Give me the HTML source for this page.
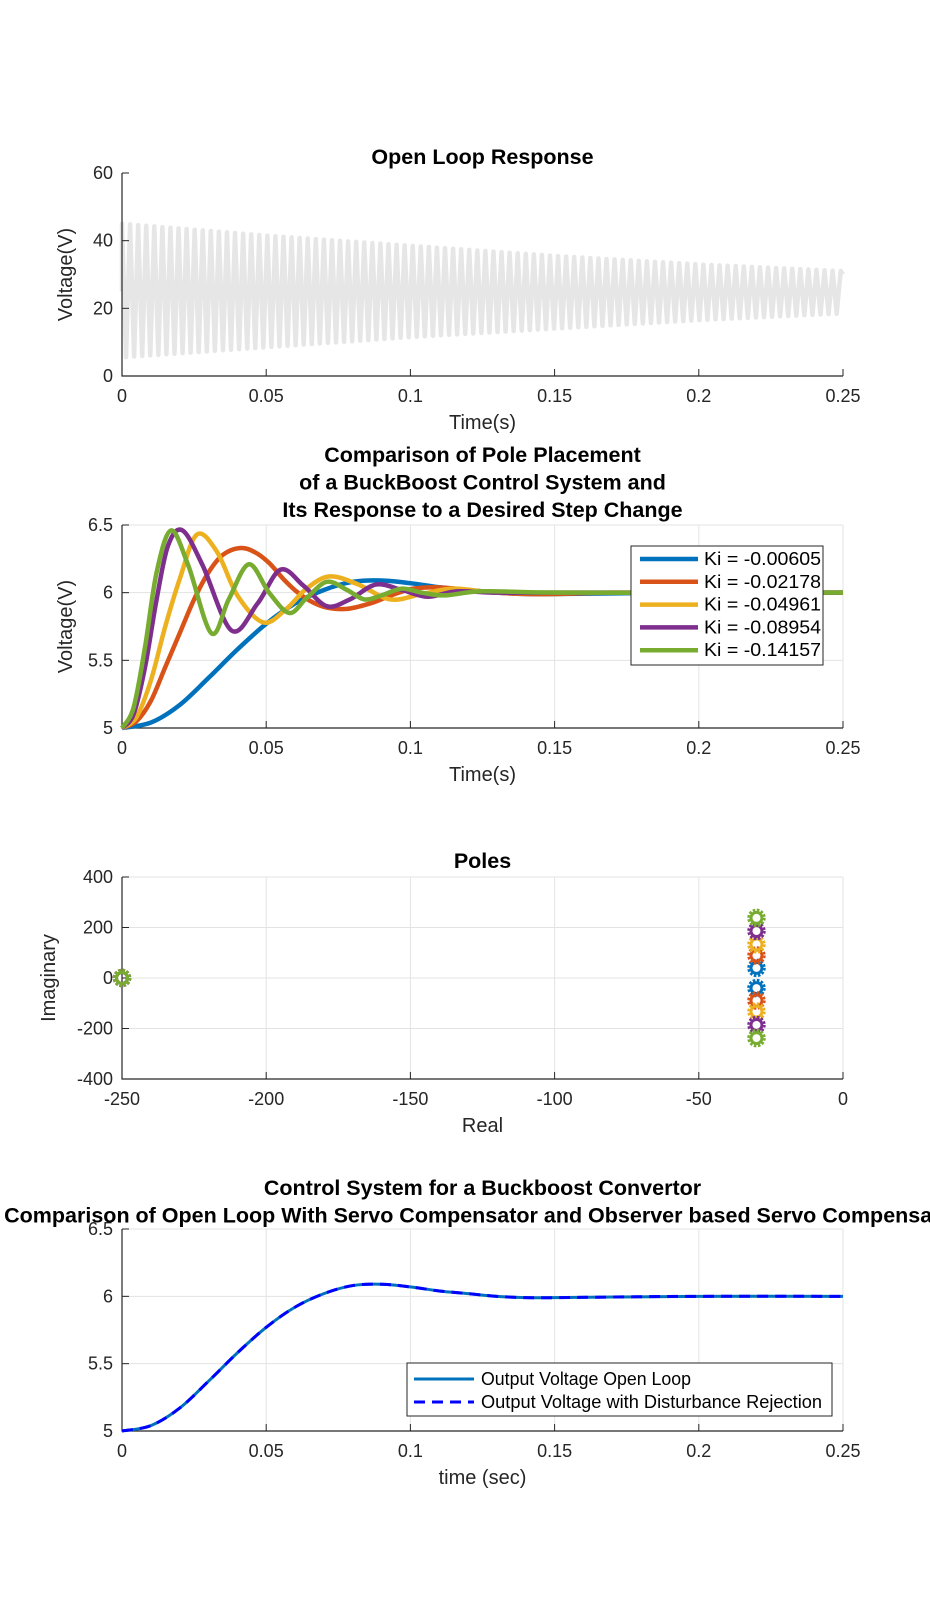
<!DOCTYPE html>
<html><head><meta charset="utf-8">
<style>
html,body{margin:0;padding:0;background:#fff;}
svg{display:block;font-family:"Liberation Sans",Arial,sans-serif;}
.tick{font-size:18px;fill:#262626;}
.ttl{font-size:21.5px;font-weight:bold;fill:#000;}
.lab{font-size:20px;fill:#262626;}
.leg{font-size:18px;fill:#000;}
</style></head>
<body>
<svg id="fig" width="930" height="1608" viewBox="0 0 930 1608" xmlns="http://www.w3.org/2000/svg">
<rect width="930" height="1608" fill="#fff"/>
</svg>
<script>
// ---------- data ----------
const olEnvT = [0, 0.05, 0.1, 0.15, 0.2, 0.25];
const olUpper = [45, 41.5, 38.5, 35.5, 33, 31];
const olLower = [5.5, 8.5, 11.5, 14, 16.5, 18.5];
const olPeriod = 0.0028;

const kiLabels = ["Ki = -0.00605","Ki = -0.02178","Ki = -0.04961","Ki = -0.08954","Ki = -0.14157"];
const blueT = [0,0.01,0.02,0.03,0.04,0.05,0.06,0.07,0.08,0.09,0.1,0.11,0.12,0.13,0.14,0.15,0.17,0.2,0.25];
const blueV = [5,5.04,5.17,5.37,5.58,5.77,5.92,6.02,6.08,6.09,6.07,6.04,6.02,6.0,5.99,5.99,5.995,6,6];
const orangeT = [0,0.005,0.01,0.015,0.02,0.025,0.03,0.035,0.041,0.046,0.051,0.056,0.061,0.066,0.071,0.078,0.086,0.091,0.096,0.101,0.109,0.12,0.13,0.14,0.15,0.17,0.2,0.25];
const orangeV = [5,5.05,5.2,5.45,5.7,5.95,6.15,6.28,6.33,6.3,6.22,6.1,6.0,5.93,5.89,5.88,5.92,5.96,6.0,6.03,6.04,6.02,6.0,5.99,5.99,6,6,6];
const yellowT = [0,0.005,0.01,0.015,0.02,0.026,0.033,0.04,0.049,0.057,0.064,0.072,0.082,0.093,0.104,0.115,0.13,0.15,0.2,0.25];
const yellowV = [5,5.08,5.35,5.75,6.1,6.43,6.3,5.98,5.78,5.88,6.03,6.12,6.06,5.95,5.99,6.03,6.0,6.0,6,6];
const purpleT = [0,0.004,0.008,0.012,0.016,0.021,0.028,0.038,0.047,0.055,0.063,0.071,0.079,0.088,0.097,0.106,0.116,0.13,0.15,0.2,0.25];
const purpleV = [5,5.1,5.45,5.95,6.35,6.46,6.2,5.72,5.92,6.17,6.05,5.9,5.95,6.06,6.02,5.97,6.01,6.0,6,6,6];
const greenT = [0,0.004,0.008,0.012,0.017,0.023,0.031,0.037,0.044,0.051,0.058,0.064,0.071,0.078,0.084,0.09,0.097,0.104,0.112,0.125,0.15,0.2,0.25];
const greenV = [5,5.15,5.6,6.15,6.46,6.2,5.7,5.95,6.21,6.0,5.85,5.96,6.08,6.02,5.95,5.98,6.03,6.0,5.98,6.01,6,6,6];
const seriesT = [blueT, orangeT, yellowT, purpleT, greenT];
const seriesV = [blueV, orangeV, yellowV, purpleV, greenV];

const poleRe = [-250, -30];
const poleIm = [40, 89, 133, 186, 238];

const servoT = blueT;
const servoV = blueV;
const servoLabels = ["Output Voltage Open Loop", "Output Voltage with Disturbance Rejection"];

const xTicks = [0, 0.05, 0.1, 0.15, 0.2, 0.25];
const xTickLabels = ["0","0.05","0.1","0.15","0.2","0.25"];
const y1Ticks = [0,20,40,60];
const yVTicks = [5,5.5,6,6.5];
const yVTickLabels = ["5","5.5","6","6.5"];
const reTicks = [-250,-200,-150,-100,-50,0];
const imTicks = [-400,-200,0,200,400];

// ---------- helpers ----------
const NS = "http://www.w3.org/2000/svg";
const fig = document.getElementById("fig");
function mk(tag, attrs, parent){ const e=document.createElementNS(NS,tag); for(const k in attrs) e.setAttribute(k,attrs[k]); (parent||fig).appendChild(e); return e; }
function txt(x,y,s,cls,anchor,parent){ const t=mk("text",{x:x,y:y,class:cls,"text-anchor":anchor||"middle"},parent); t.textContent=s; return t; }
const COLORS = ["#0072BD","#D95319","#EDB120","#7E2F8E","#77AC30"];
const L=122, R=843;
function scale(d0,d1,r0,r1){ return v => r0 + (v-d0)/(d1-d0)*(r1-r0); }
function smoothPath(pts){
  let d="M"+pts[0][0].toFixed(2)+","+pts[0][1].toFixed(2);
  for(let i=0;i<pts.length-1;i++){
    const p0=pts[Math.max(0,i-1)],p1=pts[i],p2=pts[i+1],p3=pts[Math.min(pts.length-1,i+2)];
    const c1=[p1[0]+(p2[0]-p0[0])/6,p1[1]+(p2[1]-p0[1])/6];
    const c2=[p2[0]-(p3[0]-p1[0])/6,p2[1]-(p3[1]-p1[1])/6];
    d+=" C"+c1[0].toFixed(2)+","+c1[1].toFixed(2)+" "+c2[0].toFixed(2)+","+c2[1].toFixed(2)+" "+p2[0].toFixed(2)+","+p2[1].toFixed(2);
  }
  return d;
}
function axes(g, top, bot, xs, ys, xt, xtl, yt, ytl, grid, xlab, ylab, ylabX){
  if(grid){
    xt.forEach(v=>{ const l=mk("line",{x1:xs(v),x2:xs(v),y1:top,y2:bot,stroke:"#e3e3e3","stroke-width":1},g);
      
       });
    yt.forEach(v=>{ const l=mk("line",{x1:L,x2:R,y1:ys(v),y2:ys(v),stroke:"#e3e3e3","stroke-width":1},g);
      
       });
  }
  const ax=mk("path",{d:`M${L},${top} L${L},${bot} L${R},${bot}`,fill:"none",stroke:"#262626","stroke-width":1.2},g);
  
  
  xt.forEach((v,i)=>{ mk("line",{x1:xs(v),x2:xs(v),y1:bot,y2:bot-7,stroke:"#262626"},g);
    const t=txt(xs(v),bot+26,xtl[i],"tick","middle",g);
    
     });
  yt.forEach((v,i)=>{ mk("line",{x1:L,x2:L+7,y1:ys(v),y2:ys(v),stroke:"#262626"},g);
    const t=txt(L-9,ys(v)+6,ytl[i],"tick","end",g);
    
     });
  const xl=txt((L+R)/2,bot+53,xlab,"lab","middle",g);
  
  
  const cy=(top+bot)/2;
  const yl=txt(ylabX,cy,ylab,"lab","middle",g);
  yl.setAttribute("transform",`rotate(-90 ${ylabX} ${cy})`);
  
  
}

// ---------- plot 1: open loop ----------
(function(){
  const g=mk("g",{});  
  const top=173,bot=376;
  const xs=scale(0,0.25,L,R), ys=scale(0,60,bot,top);
  function env(arr,t){ for(let i=0;i<olEnvT.length-1;i++){ if(t<=olEnvT[i+1]){ const f=(t-olEnvT[i])/(olEnvT[i+1]-olEnvT[i]); return arr[i]+f*(arr[i+1]-arr[i]); } } return arr[arr.length-1]; }
  let d="", t=0, k=0;
  d+=`M${xs(0)},${ys(25)}`;
  while(t<=0.25+1e-9){
    const v = (k%2===0)? env(olUpper,t) : env(olLower,t);
    d+=` L${xs(t).toFixed(2)},${ys(v).toFixed(2)}`;
    t+=olPeriod/2; k++;
  }
  d+=` L${xs(0.25)},${ys(30)}`;
  const p=mk("path",{d:d,fill:"none",stroke:"#e6e6e6","stroke-width":4.5,"stroke-linejoin":"round"},g);
   
  axes(g,top,bot,xs,ys,xTicks,xTickLabels,y1Ticks,y1Ticks.map(String),false,"Time(s)","Voltage(V)",72);
  const ti=txt((L+R)/2,164,"Open Loop Response","ttl","middle",g);
   
})();

// ---------- plot 2: pole placement ----------
(function(){
  const g=mk("g",{});  
  const top=525,bot=728;
  const xs=scale(0,0.25,L,R), ys=scale(5,6.5,bot,top);
  axes(g,top,bot,xs,ys,xTicks,xTickLabels,yVTicks,yVTickLabels,true,"Time(s)","Voltage(V)",72);
  seriesT.forEach((T,s)=>{
    const pts=T.map((t,i)=>[xs(t),ys(seriesV[s][i])]);
    const p=mk("path",{d:smoothPath(pts),fill:"none",stroke:COLORS[s],"stroke-width":4.5,"stroke-linejoin":"round"},g);
     
  });
  const lg=mk("g",{},g);  
  mk("rect",{x:631,y:546,width:192,height:119,fill:"#fff",stroke:"#262626","stroke-width":1},lg);
  kiLabels.forEach((lab,i)=>{
    const y=559+i*22.8;
    const e=mk("g",{},lg);  
    mk("line",{x1:640,x2:698,y1:y,y2:y,stroke:COLORS[i],"stroke-width":4.5},e);
    const t=txt(704,y+6,lab,"leg","start",e);
    t.setAttribute("textLength","117"); t.setAttribute("lengthAdjust","spacingAndGlyphs");
  });
  ["Comparison of Pole Placement","of a BuckBoost Control System and","Its Response to a Desired Step Change"].forEach((s,i)=>{
    const t=txt((L+R)/2,462+i*27.5,s,"ttl","middle",g);
     
  });
})();

// ---------- plot 3: poles ----------
(function(){
  const g=mk("g",{});  
  const top=877,bot=1079;
  const xs=scale(-250,0,L,R), ys=scale(-400,400,bot,top);
  axes(g,top,bot,xs,ys,reTicks,reTicks.map(String),imTicks,imTicks.map(String),true,"Real","Imaginary",55);
  function marker(x,y,c){
    const m=mk("g",{},g);  
    mk("circle",{cx:x,cy:y,r:8,fill:"none",stroke:c,"stroke-width":2.5,"stroke-dasharray":"2.6 1.6"},m);
    mk("circle",{cx:x,cy:y,r:5.5,fill:"none",stroke:c,"stroke-width":3},m);
  }
  for(let s=0;s<5;s++) marker(xs(poleRe[0]),ys(0),COLORS[s]);
  for(let s=0;s<5;s++){ marker(xs(poleRe[1]),ys(-poleIm[s]),COLORS[s]); }
  for(let s=0;s<5;s++){ marker(xs(poleRe[1]),ys(poleIm[s]),COLORS[s]); }
  const ti=txt((L+R)/2,868,"Poles","ttl","middle",g);
   
})();

// ---------- plot 4: servo ----------
(function(){
  const g=mk("g",{});  
  const top=1229,bot=1431;
  const xs=scale(0,0.25,L,R), ys=scale(5,6.5,bot,top);
  axes(g,top,bot,xs,ys,xTicks,xTickLabels,yVTicks,yVTickLabels,true,"time (sec)","",20);
  const pts=servoT.map((t,i)=>[xs(t),ys(servoV[i])]);
  const p1=mk("path",{d:smoothPath(pts),fill:"none",stroke:"#0072BD","stroke-width":3},g);
   
  const p2=mk("path",{d:smoothPath(pts),fill:"none",stroke:"#0000FF","stroke-width":3,"stroke-dasharray":"11 7"},g);
   
  const lg=mk("g",{},g);  
  mk("rect",{x:407,y:1363,width:425,height:53,fill:"#fff",stroke:"#262626","stroke-width":1},lg);
  const e1=mk("g",{},lg);  
  mk("line",{x1:414,x2:474,y1:1379,y2:1379,stroke:"#0072BD","stroke-width":3},e1);
  const t1=txt(481,1385,servoLabels[0],"leg","start",e1);
  t1.setAttribute("textLength","210"); t1.setAttribute("lengthAdjust","spacingAndGlyphs");
  const e2=mk("g",{},lg);  
  mk("line",{x1:414,x2:474,y1:1402,y2:1402,stroke:"#0000FF","stroke-width":3,"stroke-dasharray":"11 7"},e2);
  const t2=txt(481,1408,servoLabels[1],"leg","start",e2);
  t2.setAttribute("textLength","341"); t2.setAttribute("lengthAdjust","spacingAndGlyphs");
  ["Control System for a Buckboost Convertor","Comparison of Open Loop With Servo Compensator and Observer based Servo Compensator"].forEach((s,i)=>{
    const t=txt((L+R)/2,1195+i*27.5,s,"ttl","middle",g);
     
  });
})();
</script>
</body></html>
